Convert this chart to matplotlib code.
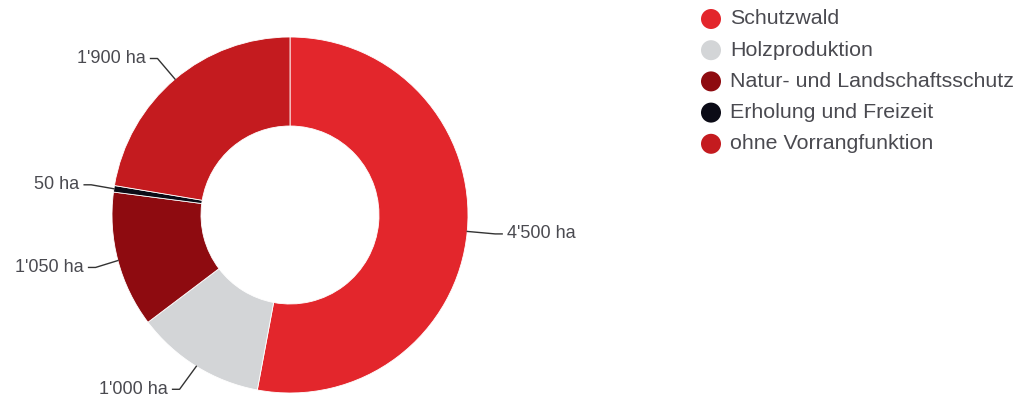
import numpy as np
import matplotlib
matplotlib.use('Agg')
from matplotlib import pyplot as plt
from matplotlib.patches import Circle

# Waldfunktionen (Fläche in ha)
categories = ['Schutzwald', 'Holzproduktion', 'Natur- und Landschaftsschutz',
              'Erholung und Freizeit', 'ohne Vorrangfunktion']
values = [4500, 1000, 1050, 50, 1900]
labels = ["4'500 ha", "1'000 ha", "1'050 ha", "50 ha", "1'900 ha"]
colors = ['#e3262c', '#d3d5d7', '#8e0b10', '#0b0b16', '#c41b1f']

plt.rcParams['font.family'] = ['Liberation Sans', 'DejaVu Sans']
text_color = '#4a4a50'

W, H = 1018, 399
fig = plt.figure(figsize=(W / 100, H / 100), dpi=100)

# Achse in Pixeleinheiten, Mittelpunkt des Donuts bei (290, 215)
cx, cy = 290, 215
half = 250
ax = fig.add_axes([(cx - half) / W, (H - cy - half) / H, 2 * half / W, 2 * half / H])

R = 178
wedges, _ = ax.pie(values, colors=colors, radius=R, startangle=90, counterclock=False,
                   wedgeprops=dict(width=89, edgecolor='white', linewidth=0.6))
ax.set_xlim(-half, half)
ax.set_ylim(-half, half)
ax.set_aspect('equal')
ax.axis('off')

# Beschriftungen mit Verbindungslinien
for w, lab in zip(wedges, labels):
    ang = np.deg2rad((w.theta1 + w.theta2) / 2)
    px, py = R * np.cos(ang), R * np.sin(ang)
    ly = 205 * np.sin(ang)
    side = 1 if np.cos(ang) >= 0 else -1
    rx = 218 if side > 0 else 213
    lx = side * np.sqrt(max(rx ** 2 - ly ** 2, 0))
    ax.plot([px, lx - side * 12, lx - side * 5], [py, ly, ly],
            color='#333333', lw=1, clip_on=False)
    ax.text(lx, ly, lab, ha='left' if side > 0 else 'right', va='center',
            fontsize=13, color=text_color, clip_on=False)

# Legende (eigene Achse in Pixeln, y nach unten)
lax = fig.add_axes([0, 0, 1, 1])
lax.set_xlim(0, W)
lax.set_ylim(H, 0)
lax.axis('off')
for i, (cat, col) in enumerate(zip(categories, colors)):
    y = 19 + i * 31.2
    lax.add_patch(Circle((711, y), 10, facecolor=col, edgecolor='none'))
    lax.text(730, y, cat, ha='left', va='center', fontsize=15.4, color=text_color)

fig.savefig('out.png', dpi=100)
